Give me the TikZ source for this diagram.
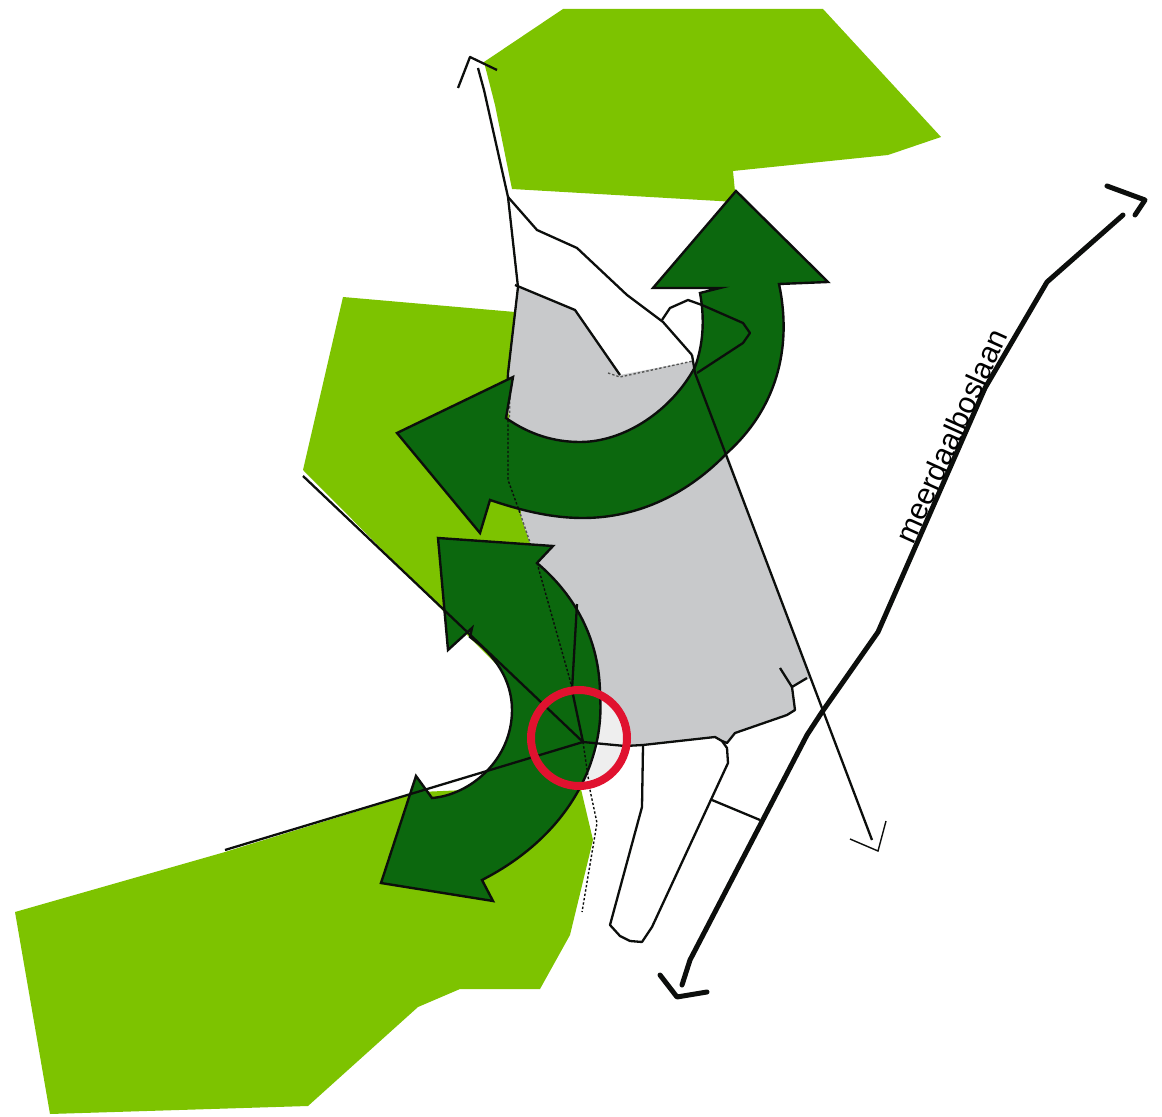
\documentclass[tikz,border=0pt]{standalone}
\usepackage{fontspec}
\setmainfont{Liberation Sans}
\usepackage{xcolor}
\definecolor{leaf}{HTML}{7DC300}
\definecolor{pine}{HTML}{0C680E}
\definecolor{paved}{HTML}{C8C9CB}
\definecolor{ink}{HTML}{0C0E0C}
\definecolor{ring}{HTML}{E0122F}
\definecolor{haze}{HTML}{EEEEEE}

\begin{document}
\begin{tikzpicture}[
  x=0.5pt, y=-0.5pt,
  patch/.style={fill=leaf, draw=none},
  plaza/.style={fill=paved, draw=none},
  flow/.style={fill=pine, draw=ink, line width=1.2pt, line join=miter},
  edge/.style={draw=ink, line width=1.15pt, line join=round},
  fine/.style={draw=ink, line width=0.7pt, line join=miter},
  dots/.style={draw=ink, line width=0.7pt, dash pattern=on 1.2pt off 1pt},
  road/.style={draw=ink, line width=2.5pt, line join=round, line cap=round}
]
\useasboundingbox (0,0) rectangle (1162,1117);

% ---- green patches ------------------------------------------------------
\fill[patch] (563,9) -- (823,9) -- (941,137) -- (888,155) -- (733,171) -- (736,202)
  -- (512,189) -- (495,105) -- (484,62) -- cycle;
\fill[patch] (343,297) -- (515,312) -- (507,400) -- (522,520) -- (540,570) -- (540,690)
  -- (497,665) -- (303,470) -- cycle;
\fill[patch] (15,912) -- (225,852) -- (420,792) -- (580,785) -- (593,840) -- (570,935)
  -- (540,989) -- (460,989) -- (418,1007) -- (308,1106) -- (50,1114) -- cycle;

% ---- paved ground -------------------------------------------------------
\fill[plaza] (517,287) -- (575,310) -- (620,375) -- (693,361) -- (810,678) -- (793,687)
  -- (795,710) -- (787,715) -- (735,733) -- (727,743) -- (715,737) -- (643,745)
  -- (600,745) -- (600,683) -- (537,563) -- (522,520) -- (507,400) -- cycle;
\begin{scope}
  \clip (579,738) circle[radius=24pt];
  \fill[haze] (590,690) -- (640,690) -- (640,790) -- (580,790) -- (600,745) -- cycle;
\end{scope}

% ---- plots and paths ----------------------------------------------------
\draw[edge, fill=white] (643,746) -- (642,807) -- (610,925) -- (620,936) -- (630,941)
  -- (642,942) -- (652,927) -- (728,763) -- (727,748) -- (722,741);
\draw[edge] (712,800) -- (760,820);
\draw[edge] (780,668) -- (792,687) -- (807,678);
\draw[edge] (792,687) -- (795,710) -- (787,715) -- (735,733) -- (727,743) -- (722,741)
  -- (715,737) -- (643,745) -- (625,746);
\draw[edge] (515,285) -- (575,310) -- (620,375);
\draw[edge] (458,88) -- (470,57) -- (497,70);
\draw[edge] (478,68) -- (484,90) -- (508,197) -- (518,287) -- (508,373) -- (506,418);
\draw[edge] (508,197) -- (537,230) -- (577,248) -- (627,295) -- (663,322) -- (692,355);
\draw[dots, draw=ink!70] (608,373) -- (620,377) -- (693,361);
\draw[dots, draw=ink!70] (510,393) -- (508,480) -- (520,513) -- (537,563);

% ---- arrows -------------------------------------------------------------
\draw[flow] (736,191) -- (828,282) -- (779,284)
  .. controls (793,350) and (775,410) .. (727,453)
  .. controls (690,492) and (640,518) .. (583,518)
  .. controls (550,518) and (520,510) .. (490,500)
  -- (480,533) -- (397,433) -- (513,377) -- (506,418)
  .. controls (530,435) and (555,442) .. (580,442)
  .. controls (625,442) and (672,410) .. (695,367)
  .. controls (703,345) and (705,320) .. (700,293)
  -- (720,288) -- (653,288) -- cycle;
\draw[flow] (438,538) -- (553,546) -- (537,563)
  .. controls (575,595) and (600,640) .. (600,695)
  .. controls (605,760) and (570,835) .. (482,880)
  -- (493,901) -- (381,883) -- (416,776) -- (432,798)
  .. controls (470,795) and (512,760) .. (512,710)
  .. controls (512,680) and (495,655) .. (470,637)
  -- (472,628) -- (448,650) -- cycle;

% ---- lines over the arrows ----------------------------------------------
\draw[edge] (662,320) -- (670,308) -- (688,300) -- (702,305) -- (743,323) -- (750,333)
  -- (743,343) -- (697,373);
\draw[edge] (692,355) -- (695,373) -- (872,840);
\draw[fine] (850,839) -- (878,851) -- (886,821);
\draw[edge] (303,476) -- (583,742) -- (225,850);
\draw[edge] (577,604) -- (572,690) -- (583,742) -- (625,746);
\draw[dots] (508,420) -- (508,480) -- (520,513);
\draw[dots] (537,563) -- (570,680) -- (583,742) -- (590,790) -- (597,823) -- (582,912);

% ---- road and crossing --------------------------------------------------
\draw[road] (1107,186) -- (1145,200) -- (1135,215);
\draw[road] (1123,215) -- (1047,282) -- (985,388) -- (878,632) -- (822,712) -- (807,735)
  -- (690,960) -- (682,985);
\draw[road] (660,975) -- (677,997) -- (707,992);
\node[rotate=65.7, font=\fontsize{15}{18}\selectfont, inner sep=0pt] (lane) at (951,436) {meerdaalboslaan};
\draw[draw=ring, line width=4pt] (579,738) circle[radius=24pt];

\end{tikzpicture}
\end{document}
